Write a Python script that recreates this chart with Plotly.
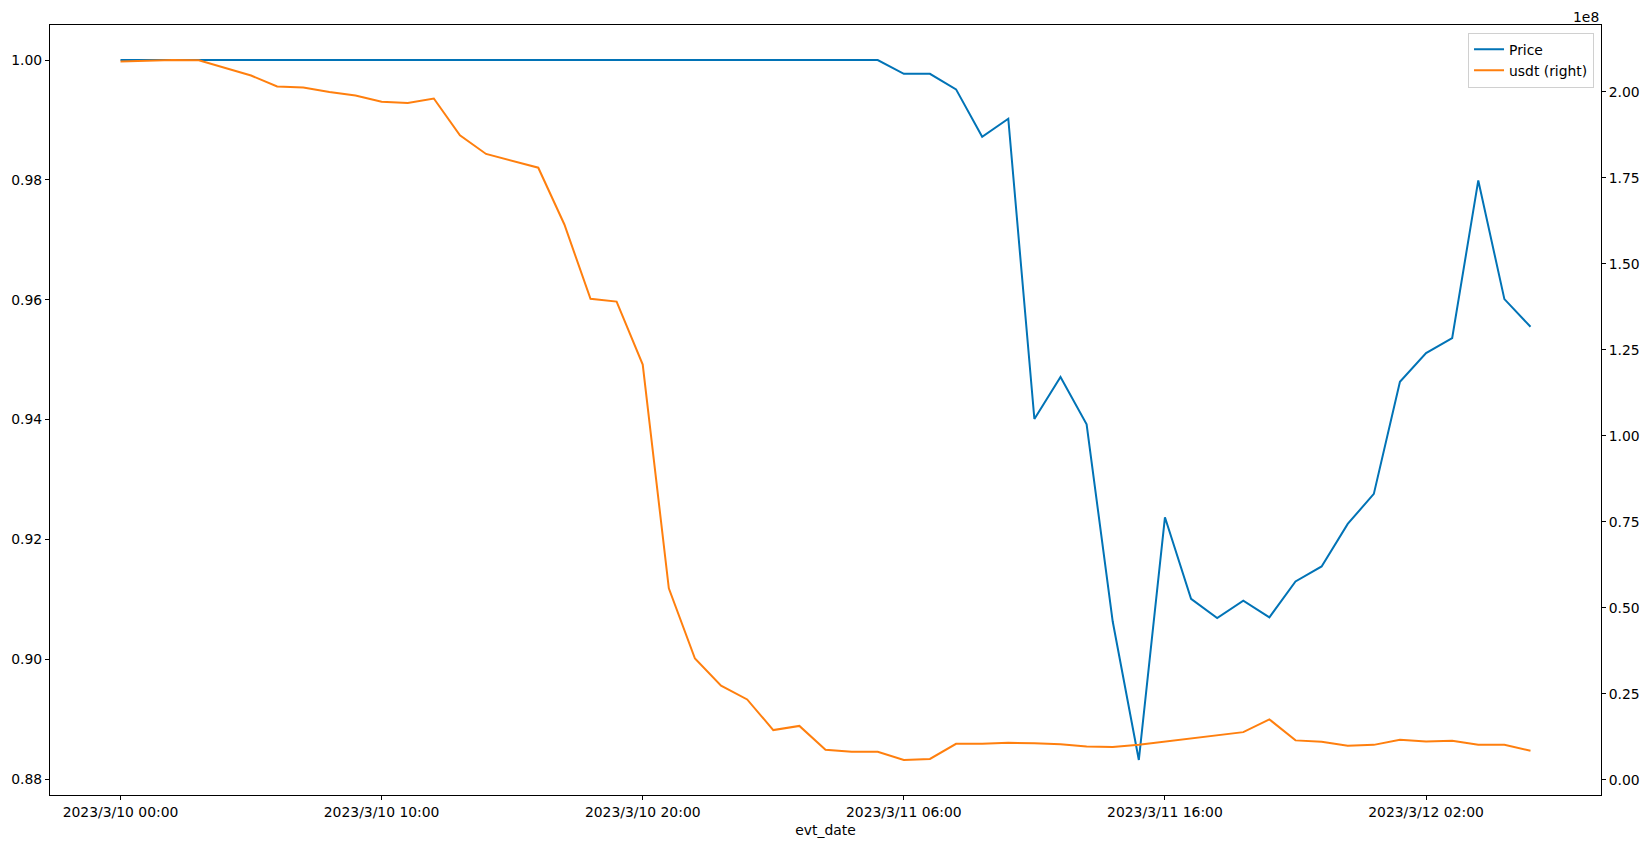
import pandas as pd
import plotly.graph_objects as go

# ---- data ----
start_time = "2023-03-10 00:00"
n_hours = 55
price = [1.0] * 30 + [
    0.9977, 0.9977, 0.9951, 0.9872, 0.9902, 0.9401, 0.9471, 0.9392, 0.9063, 0.8832,
    0.9237, 0.9101, 0.9069, 0.9098, 0.9070, 0.9130, 0.9155, 0.9226, 0.9276, 0.9463,
    0.9511, 0.9536, 0.9799, 0.9601, 0.9555,
]
usdt = [
    2.088e8, 2.091e8, 2.092e8, 2.091e8, 2.069e8, 2.047e8, 2.015e8, 2.012e8, 1.999e8, 1.989e8,
    1.971e8, 1.967e8, 1.980e8, 1.873e8, 1.819e8, 1.800e8, 1.779e8, 1.614e8, 1.398e8, 1.390e8,
    1.207e8, 0.557e8, 0.353e8, 0.274e8, 0.234e8, 0.145e8, 0.157e8, 0.088e8, 0.082e8, 0.082e8,
    0.058e8, 0.061e8, 0.105e8, 0.1055e8, 0.108e8, 0.107e8, 0.104e8, 0.097e8, 0.096e8, 0.102e8,
    0.111e8, 0.121e8, 0.130e8, 0.139e8, 0.176e8, 0.115e8, 0.111e8, 0.0997e8, 0.102e8, 0.117e8,
    0.112e8, 0.114e8, 0.1026e8, 0.102e8, 0.085e8,
]
x_tick_times = ["2023-03-10 00:00", "2023-03-10 10:00", "2023-03-10 20:00",
                "2023-03-11 06:00", "2023-03-11 16:00", "2023-03-12 02:00"]
x_tick_labels = ["2023/3/10 00:00", "2023/3/10 10:00", "2023/3/10 20:00",
                 "2023/3/11 06:00", "2023/3/11 16:00", "2023/3/12 02:00"]
y1_ticks = [0.88, 0.90, 0.92, 0.94, 0.96, 0.98, 1.00]
y1_tick_labels = ["0.88", "0.90", "0.92", "0.94", "0.96", "0.98", "1.00"]
y2_ticks = [0, 0.25e8, 0.5e8, 0.75e8, 1.0e8, 1.25e8, 1.5e8, 1.75e8, 2.0e8]
y2_tick_labels = ["0.00", "0.25", "0.50", "0.75", "1.00", "1.25", "1.50", "1.75", "2.00"]

evt_date = pd.date_range(start_time, periods=n_hours, freq="h")

# matplotlib-like 5% margins
def padded(vmin, vmax, frac=0.05):
    d = (vmax - vmin) * frac
    return [vmin - d, vmax + d]

span = evt_date[-1] - evt_date[0]
x_range = [evt_date[0] - span * 0.05, evt_date[-1] + span * 0.05]

BLUE = "#0173b6"
ORANGE = "#ff7f0e"
FONT = "DejaVu Sans"
FS = 13.9

fig = go.Figure()
fig.add_trace(go.Scatter(x=evt_date, y=price, mode="lines", name="Price",
                         line=dict(color=BLUE, width=2)))
fig.add_trace(go.Scatter(x=evt_date, y=usdt, mode="lines", name="usdt (right)",
                         line=dict(color=ORANGE, width=2), yaxis="y2"))

axis_common = dict(showgrid=False, zeroline=False, showline=True, linecolor="black",
                   linewidth=1, ticks="outside", ticklen=4, tickwidth=1, tickcolor="black",
                   automargin=False,
                   tickfont=dict(family=FONT, size=FS, color="black"))

# page body has an 8px margin; sizes compensate so the plot area sits where the reference's does
fig.update_layout(
    width=1635, height=832,
    margin=dict(l=42, r=42, t=17, b=45),
    paper_bgcolor="white", plot_bgcolor="white",
    font=dict(family=FONT, size=FS, color="black"),
    xaxis=dict(range=x_range, tickmode="array",
               tickvals=pd.to_datetime(x_tick_times), ticktext=x_tick_labels,
               mirror=True,
               title=dict(text="evt_date", font=dict(family=FONT, size=FS), standoff=6),
               **axis_common),
    yaxis=dict(range=padded(min(price), max(price)), tickmode="array",
               tickvals=y1_ticks, ticktext=y1_tick_labels, side="left", **axis_common),
    yaxis2=dict(range=padded(min(usdt), max(usdt)), tickmode="array",
                tickvals=y2_ticks, ticktext=y2_tick_labels, overlaying="y", side="right",
                **axis_common),
    legend=dict(x=0.9955, y=0.99, xanchor="right", yanchor="top",
                bgcolor="rgba(255,255,255,0.8)", bordercolor="#d0d0d0", borderwidth=1,
                font=dict(family=FONT, size=FS, color="black"), tracegroupgap=0),
    showlegend=True,
    annotations=[dict(text="1e8", xref="paper", yref="paper", x=1.0, y=1.0,
                      xanchor="right", yanchor="middle", showarrow=False, yshift=9,
                      height=15,
                      font=dict(family=FONT, size=FS, color="black"))],
)

fig.write_html("out.html")
